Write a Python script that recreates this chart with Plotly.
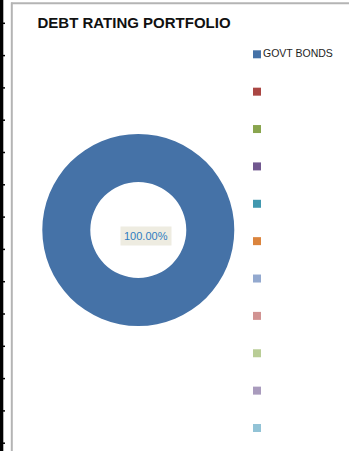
import plotly.graph_objects as go

# ---- data ----
categories = ["GOVT BONDS", " ", "  ", "   ", "    ", "     ", "      ",
              "       ", "        ", "         ", "          "]
legend_text = ["GOVT BONDS", "", "", "", "", "", "", "", "", "", ""]
values = [100, 0, 0, 0, 0, 0, 0, 0, 0, 0, 0]
colors = ["#4572A7", "#AA4643", "#89A54E", "#71588F", "#4198AF", "#DB843D",
          "#93A9CF", "#D19392", "#B9CD96", "#A99BBD", "#92C3D6"]
title_text = "DEBT RATING PORTFOLIO"

W, H = 349, 451

fig = go.Figure()

# donut
fig.add_trace(go.Pie(
    labels=categories, values=values, hole=0.5, sort=False,
    direction="clockwise", rotation=0,
    marker=dict(colors=colors, line=dict(width=0)),
    textinfo="none", showlegend=False,
    domain=dict(x=[42.3 / W, 234.3 / W], y=[125 / H, 317 / H]),
))

# legend drawn as a scatter on hidden axes
idx = list(range(len(categories)))
fig.add_trace(go.Scatter(
    x=[0] * len(categories), y=idx, mode="markers+text",
    marker=dict(symbol="square", size=8, color=colors, line=dict(width=0)),
    text=legend_text, textposition="middle right",
    textfont=dict(family="Liberation Sans", size=10.5, color="#1e1e1e"),
    showlegend=False, hoverinfo="skip", cliponaxis=False,
))

step = 37.37
top_px = 54.3
y0 = -top_px / step
y1 = (len(categories) - 1) + (H - (top_px + step * (len(categories) - 1))) / step

pct = values[0] / sum(values) * 100

shapes = []
# left black bar with tick marks
shapes.append(dict(type="rect", xref="paper", yref="paper", x0=0, x1=3.3 / W,
                   y0=0, y1=1, fillcolor="black", line=dict(width=0), layer="above"))
ty = 23.3
while ty < H:
    shapes.append(dict(type="line", xref="paper", yref="paper", x0=0, x1=5 / W,
                       y0=1 - ty / H, y1=1 - ty / H, line=dict(color="black", width=1.5)))
    ty += 32.3
# grey chart frame
shapes.append(dict(type="line", xref="paper", yref="paper", x0=11.8 / W, x1=11.8 / W,
                   y0=0, y1=1 - 2.5 / H, line=dict(color="#B4B4B4", width=2)))
shapes.append(dict(type="line", xref="paper", yref="paper", x0=11 / W, x1=1,
                   y0=1 - 3.3 / H, y1=1 - 3.3 / H, line=dict(color="#B4B4B4", width=2)))

fig.update_layout(
    width=W, height=H,
    margin=dict(l=0, r=0, t=0, b=0),
    paper_bgcolor="white", plot_bgcolor="rgba(0,0,0,0)",
    showlegend=False,
    title=dict(text="<b>" + title_text + "</b>", x=37.5 / W, xanchor="left",
               xref="paper", y=1 - 23 / H, yanchor="middle", yref="paper",
               font=dict(family="Liberation Sans", size=15, color="#111111")),
    xaxis=dict(domain=[257 / W, 1], range=[0, 1], visible=False, fixedrange=True),
    yaxis=dict(domain=[0, 1], range=[y1, y0], visible=False, fixedrange=True),
    shapes=shapes,
    annotations=[dict(
        text=f"{pct:.2f}%", xref="paper", yref="paper",
        x=146 / W, y=1 - 236 / H, xanchor="center", yanchor="middle",
        showarrow=False, bgcolor="#EEECE1", borderpad=3,
        font=dict(family="Liberation Sans", size=11, color="#2F7CC0"),
    )],
)

fig.write_html("out.html")
